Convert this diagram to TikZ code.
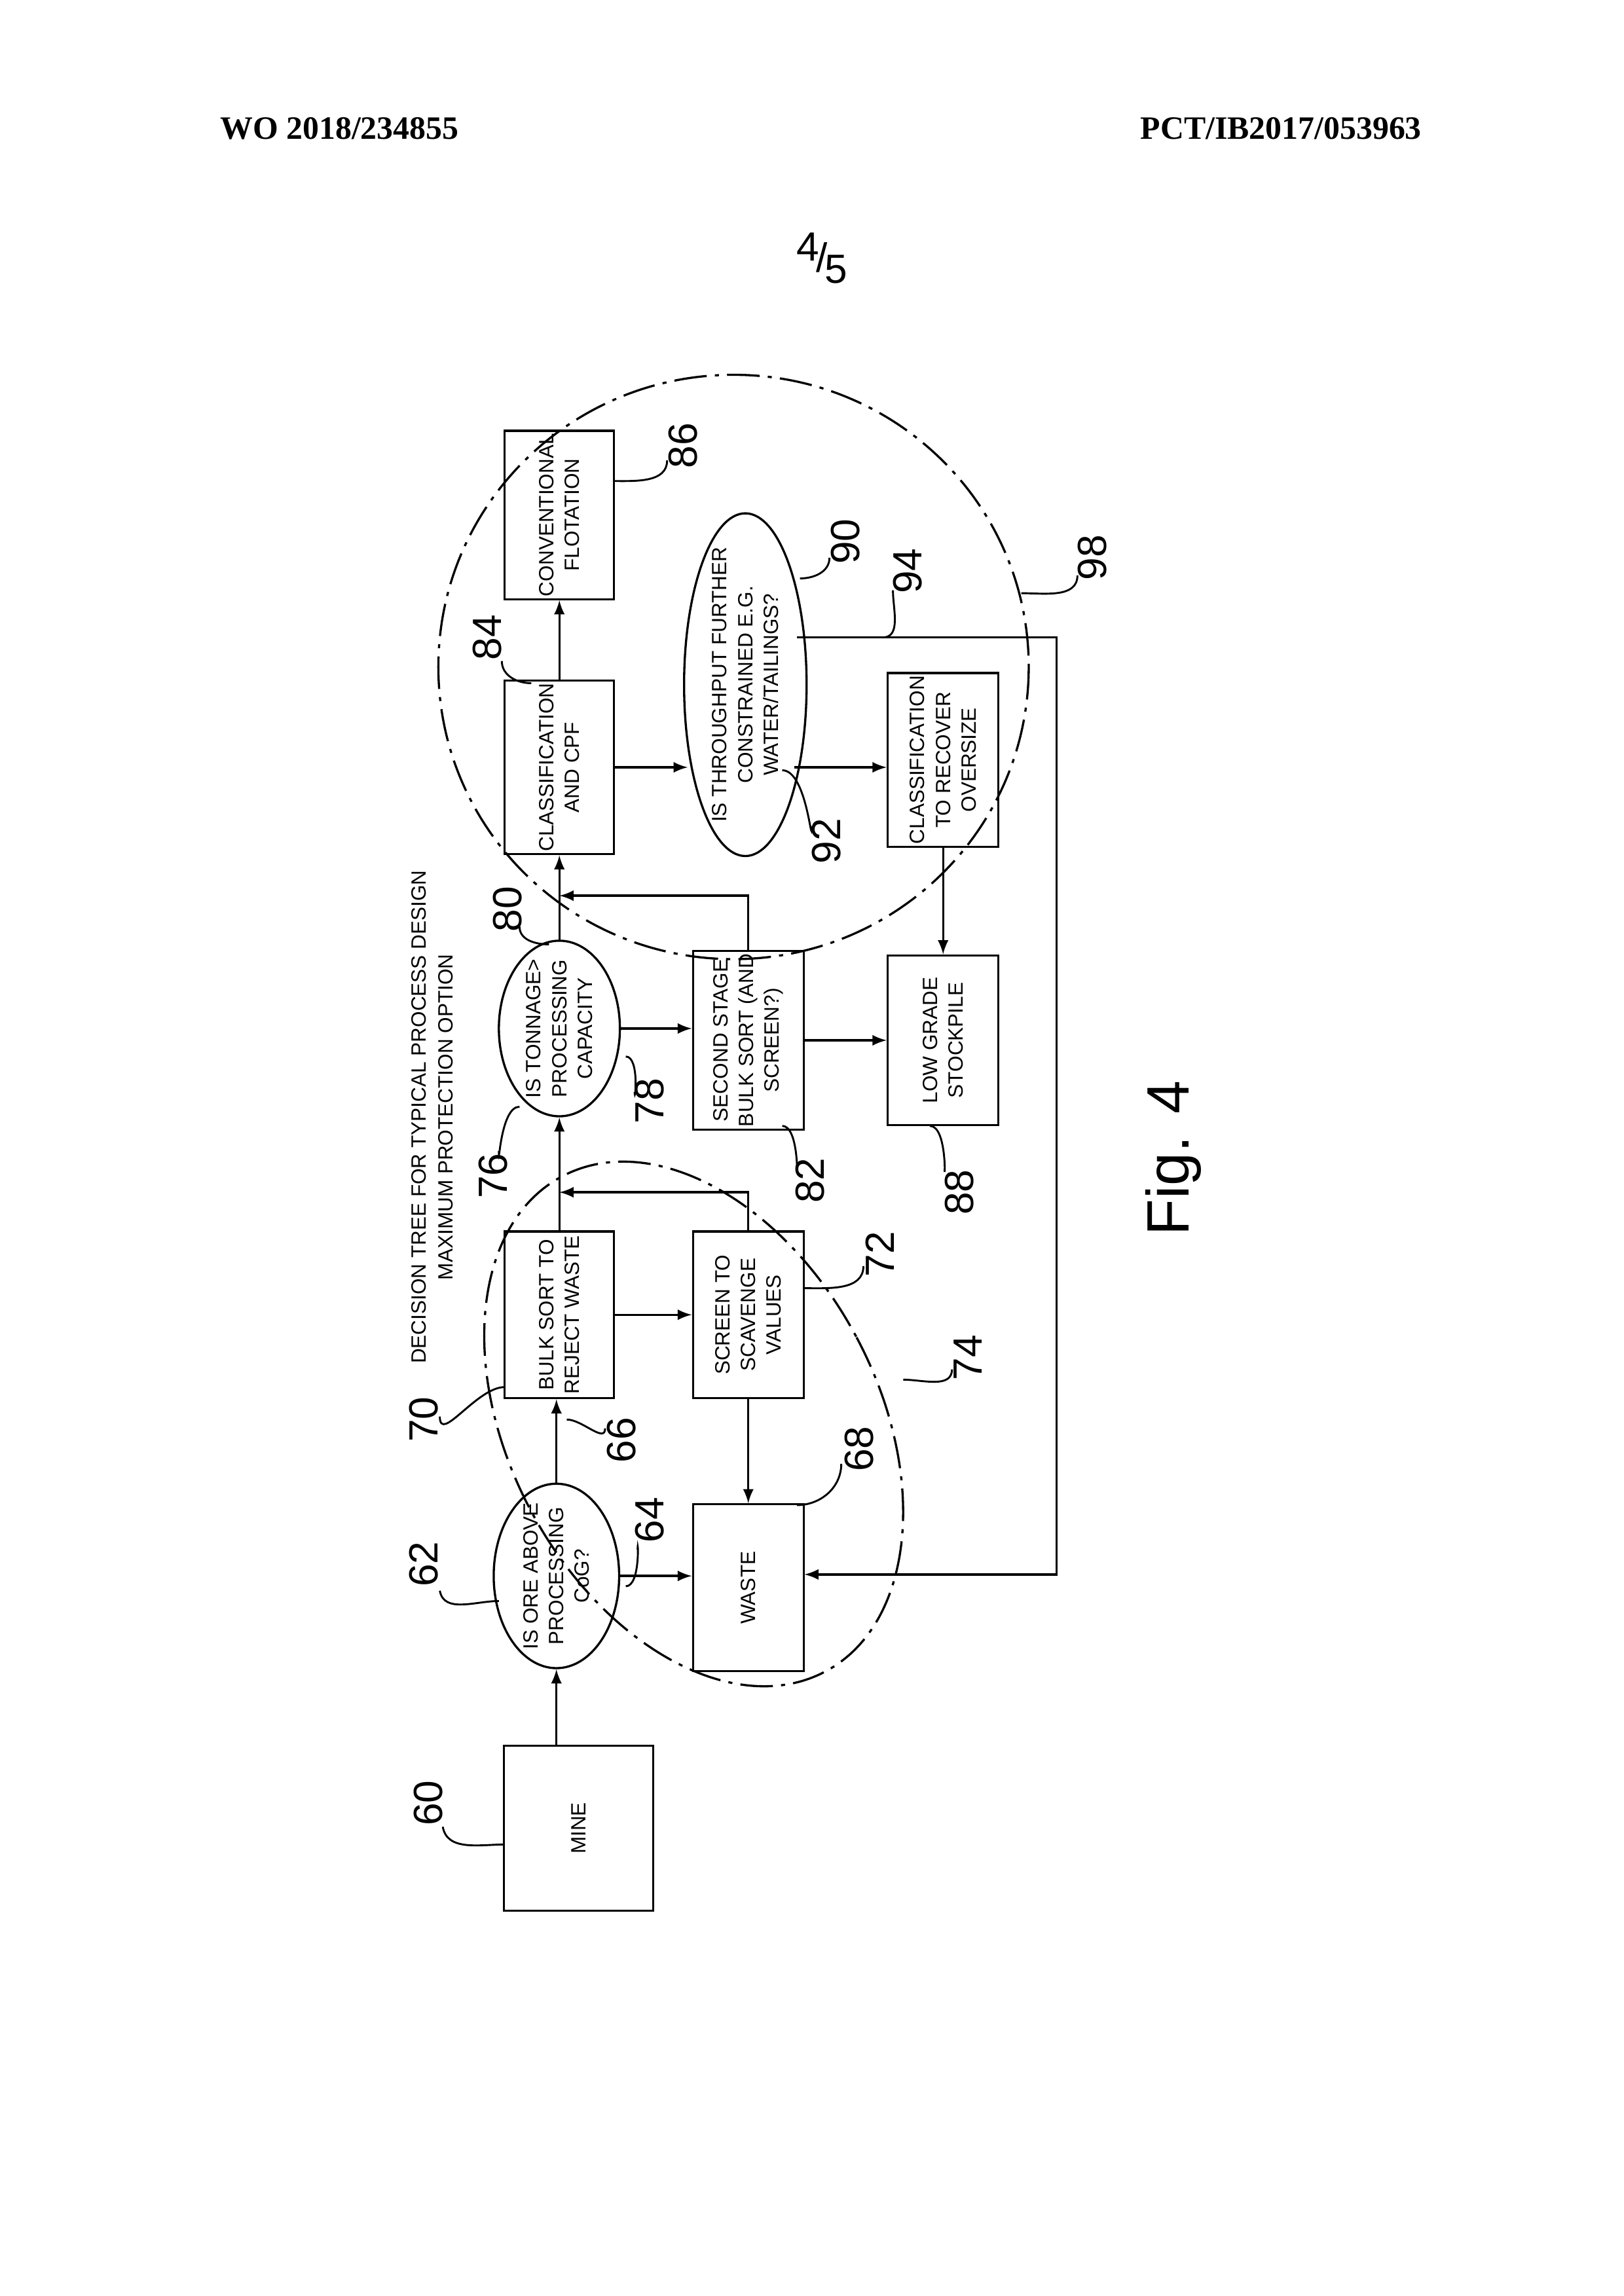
\documentclass[tikz,border=0pt]{standalone}
\usepackage{fontspec}
\setmainfont{Liberation Serif}
\setsansfont{Liberation Sans}
\usepackage{tikz}
\usetikzlibrary{shapes.geometric}
\def\u{0.01909cm}
\tikzset{
  box/.style 2 args={draw,rotate=90,align=center,inner sep=1pt,line width=.8pt,
    minimum width=#1*\u,minimum height=#2*\u,font=\sffamily\fontsize{7.6}{9.5}\selectfont},
  oval/.style 2 args={draw,ellipse,rotate=90,align=center,inner sep=-6pt,line width=.8pt,
    minimum width=#1*\u,minimum height=#2*\u,font=\sffamily\fontsize{7.6}{9.5}\selectfont},
  num/.style={rotate=90,font=\sffamily\fontsize{15}{15}\selectfont},
  arr/.style={-latex,line width=.8pt},
  lead/.style={line width=.7pt},
  dashdot/.style={line width=.8pt,dash pattern=on 12pt off 3pt on 1.5pt off 3pt}
}
\begin{document}
\begin{tikzpicture}[x=0.01909cm,y=-0.01909cm]
			\useasboundingbox (0,0) rectangle (1100,1556);
			% header
			\node[font=\bfseries\fontsize{12}{14}\selectfont] (hl) at (230,87) {WO 2018/234855};
			\node[font=\bfseries\fontsize{12}{14}\selectfont] (hr) at (868,87) {PCT/IB2017/053963};
			\node[font=\sffamily\fontsize{15}{15}\selectfont] (pg) at (557,175) {\raisebox{4pt}{4}\kern-1pt/\kern-1pt\raisebox{-4pt}{5}};
			\node[rotate=90,align=center,font=\sffamily\fontsize{7.6}{10}\selectfont] (title) at (293,757)
				{DECISION TREE FOR TYPICAL PROCESS DESIGN\\MAXIMUM PROTECTION OPTION};
			\node[rotate=90,font=\sffamily\fontsize{22}{22}\selectfont] (fig) at (795,785) {Fig. 4};
			
			% blocks
			\node[box={112}{101}] (mine) at (392,1239) {MINE};
			\node[oval={125}{85}] (ore) at (377,1068) {IS ORE ABOVE\\PROCESSING\\CoG?};
			\node[box={113}{75}] (waste) at (507,1076) {WASTE};
			\node[box={113}{74}] (bulk) at (379,891) {BULK SORT TO\\REJECT WASTE};
			\node[box={113}{75}] (scav) at (507,891) {SCREEN TO\\SCAVENGE\\VALUES};
			\node[oval={119}{82}] (ton) at (379,697) {IS TONNAGE>\\PROCESSING\\CAPACITY};
			\node[box={115}{75}] (second) at (507,705) {SECOND STAGE\\BULK SORT (AND\\SCREEN?)};
			\node[box={115}{75}] (stock) at (639,705) {LOW GRADE\\STOCKPILE};
			\node[box={115}{74}] (cpf) at (379,520) {CLASSIFICATION\\AND CPF};
			\node[oval={208}{83}] (thru) at (505,464) {IS THROUGHPUT FURTHER\\CONSTRAINED E.G.\\WATER/TAILINGS?};
			\node[box={114}{75}] (recover) at (639,515) {CLASSIFICATION\\TO RECOVER\\OVERSIZE};
			\node[box={112}{74}] (flot) at (379,349) {CONVENTIONAL\\FLOTATION};
			
			% connectors
			\coordinate (j1) at (379,808);
			\coordinate (j2) at (379,607);
			\coordinate (t1) at (466,520);
			\coordinate (t2) at (538,520);
			\coordinate (t3) at (540,432);
			\coordinate (c1) at (716,432);
			\coordinate (w1) at (545,1067);
			\draw[arr] (ore |- mine.east) -- (ore.west);
			\draw[arr] (ore.east) -- (ore |- bulk.west);
			\draw[arr] (ore.south) -- (ore.south -| waste.north);
			\draw[arr] (bulk.south) -- (scav.north);
			\draw[arr] (scav.west) -- (waste.east);
			\draw[arr] (bulk.east) -- (ton.west);
			\draw[arr] (scav.east) |- (j1);
			\draw[arr] (ton.south) -- (ton.south -| second.north);
			\draw[arr] (ton.east) -- (cpf.west);
			\draw[arr] (second.east) |- (j2);
			\draw[arr] (second.south) -- (stock.north);
			\draw[arr] (cpf.east) -- (flot.west);
			\draw[arr] (cpf.south) -- (t1);
			\draw[arr] (t2) -- (t2 -| recover.north);
			\draw[arr] (recover.west) -- (stock.east);
			\draw[arr] (t3) -- (c1) |- (w1);
			
			% protection zones
			\draw[dashdot,rotate around={28:(470,965)}] (470,965) ellipse (125 and 190);
			\draw[dashdot] (497,452) ellipse (200 and 198);
			
			% reference numerals
			\node[num] (n60) at (290,1222) {60};
			\draw[lead] (300,1238) to[out=-80,in=180] (342,1250);
			\node[num] (n62) at (287,1060) {62};
			\draw[lead] (298,1078) to[out=-80,in=180] (338,1085);
			\node[num] (n64) at (440,1030) {64};
			\draw[lead] (432,1050) to[out=90,in=0] (424,1075);
			\node[num] (n66) at (421,976) {66};
			\draw[lead] (410,968) to[out=-90,in=0] (384,962);
			\node[num] (n68) at (582,982) {68};
			\draw[lead] (570,992) to[out=-90,in=0] (540,1020);
			\node[num] (n70) at (287,962) {70};
			\draw[lead] (298,960) to[out=-90,in=180] (342,940);
			\node[num] (n72) at (596,850) {72};
			\draw[lead] (585,858) to[out=-90,in=0] (545,873);
			\node[num] (n74) at (656,920) {74};
			\draw[lead] (645,928) to[out=-90,in=0] (612,935);
			\node[num] (n76) at (334,797) {76};
			\draw[lead] (338,780) to[out=-90,in=180] (352,750);
			\node[num] (n78) at (440,746) {78};
			\draw[lead] (430,740) to[out=-90,in=0] (424,716);
			\node[num] (n80) at (344,616) {80};
			\draw[lead] (352,628) to[out=-90,in=180] (372,640);
			\node[num] (n82) at (549,800) {82};
			\draw[lead] (540,790) to[out=-90,in=0] (530,763);
			\node[num] (n84) at (330,432) {84};
			\draw[lead] (340,448) to[out=-90,in=180] (360,463);
			\node[num] (n86) at (463,302) {86};
			\draw[lead] (452,312) to[out=-90,in=0] (416,326);
			\node[num] (n88) at (650,808) {88};
			\draw[lead] (640,792) to[out=-90,in=0] (630,763);
			\node[num] (n90) at (573,367) {90};
			\draw[lead] (562,378) to[out=-90,in=0] (542,392);
			\node[num] (n92) at (560,570) {92};
			\draw[lead] (550,560) to[out=-90,in=0] (530,522);
			\node[num] (n94) at (615,387) {94};
			\draw[lead] (605,400) to[out=-90,in=0] (598,432);
			\node[num] (n98) at (740,378) {98};
			\draw[lead] (730,390) to[out=-90,in=0] (692,402);
\end{tikzpicture}
\end{document}
